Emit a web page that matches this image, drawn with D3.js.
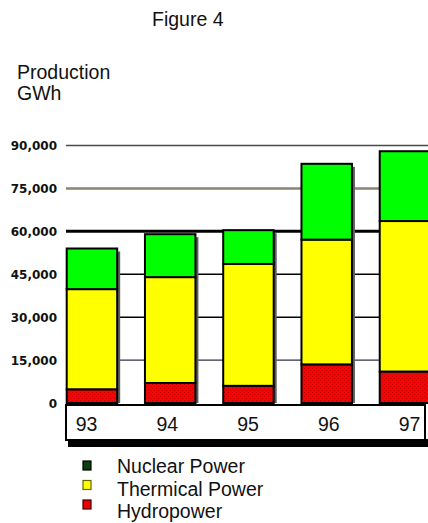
<!DOCTYPE html>
<html>
<head>
<meta charset="utf-8">
<script src="https://cdn.jsdelivr.net/npm/d3@7"></script>
<style>
  html, body { margin: 0; padding: 0; background: #fff; }
  svg { display: block; }
  .txt { font-family: "Liberation Sans", Arial, sans-serif; fill: #111; }
  .ytick text { font-family: "DejaVu Sans", Verdana, sans-serif; font-weight: bold; font-size: 12px; fill: #111; }
</style>
</head>
<body>
<script>
// Electricity production by source, GWh
const years   = ["93", "94", "95", "96", "97"];
const hydro   = [4800, 7000, 6000, 13500, 11000];
const thermal = [35000, 37000, 42600, 43600, 52600];
const nuclear = [14200, 15000, 11800, 26500, 24400];
const yTicks  = [0, 15000, 30000, 45000, 60000, 75000, 90000];
const seriesNames = ["Nuclear Power", "Thermical Power", "Hydropower"];

const W = 428, H = 523;
const svg = d3.select("body").append("svg").attr("width", W).attr("height", H);

// speckled red fill for hydropower
const defs = svg.append("defs");
const pat = defs.append("pattern").attr("id", "hydroFill")
  .attr("patternUnits", "userSpaceOnUse").attr("width", 4).attr("height", 4);
pat.append("rect").attr("width", 4).attr("height", 4).attr("fill", "#ff0000");
pat.append("rect").attr("x", 0).attr("y", 0).attr("width", 1).attr("height", 1).attr("fill", "#c40000");
pat.append("rect").attr("x", 2).attr("y", 2).attr("width", 1).attr("height", 1).attr("fill", "#c40000");

const rows = years.map((yr, i) => ({ year: yr, hydro: hydro[i], thermal: thermal[i], nuclear: nuclear[i] }));
const keys = ["hydro", "thermal", "nuclear"];
const stacked = d3.stack().keys(keys)(rows);
const fills = { hydro: "url(#hydroFill)", thermal: "#ffff00", nuclear: "#00ff00" };

const plotLeft = 66, baseY = 403, topY = 145.5;
const x = d3.scaleBand().domain(years).range([66.7, 430.2]).paddingInner(0.355).paddingOuter(0).align(0);
const y = d3.scaleLinear().domain([0, 90000]).range([baseY, topY]);

// titles
svg.append("text").attr("class", "txt").attr("x", 152).attr("y", 26)
  .attr("font-size", 19.5).text("Figure 4");
svg.append("text").attr("class", "txt").attr("x", 17).attr("y", 79)
  .attr("font-size", 19.5).text("Production");
svg.append("text").attr("class", "txt").attr("x", 17).attr("y", 100)
  .attr("font-size", 19.5).text("GWh");

// horizontal rules behind the bars
function ruleStyle(v) {
  if (v === 60000) return { stroke: "#000", width: 3 };
  if (v === 75000) return { stroke: "#8a8470", width: 2.5 };
  if (v === 90000) return { stroke: "#4a4a4a", width: 1.5 };
  if (v === 15000) return { stroke: "#30304a", width: 1.2 };
  return { stroke: "#000", width: 1.5 };
}
svg.append("g").selectAll("line").data(yTicks.filter(v => v > 0)).join("line")
  .attr("x1", plotLeft).attr("x2", W)
  .attr("y1", d => y(d)).attr("y2", d => y(d))
  .attr("stroke", d => ruleStyle(d).stroke)
  .attr("stroke-width", d => ruleStyle(d).width);

// value axis labels
const yAxis = svg.append("g").attr("class", "ytick")
  .attr("transform", `translate(${plotLeft},0)`)
  .call(d3.axisLeft(y).tickValues(yTicks).tickFormat(d3.format(",")).tickSize(0).tickPadding(9));
yAxis.select(".domain").remove();
yAxis.selectAll("text").attr("dy", "0.36em");

// bar shadows
svg.append("g").selectAll("rect").data(rows).join("rect")
  .attr("x", d => x(d.year) + 3)
  .attr("y", d => y(d.hydro + d.thermal + d.nuclear) + 3)
  .attr("width", x.bandwidth())
  .attr("height", d => baseY - y(d.hydro + d.thermal + d.nuclear) - 3)
  .attr("fill", "#5e5e5e");

// stacked bars
svg.append("g").selectAll("g").data(stacked).join("g")
  .attr("fill", s => fills[s.key])
  .selectAll("rect").data(s => s).join("rect")
  .attr("x", d => x(d.data.year))
  .attr("y", d => y(d[1]))
  .attr("width", x.bandwidth())
  .attr("height", d => y(d[0]) - y(d[1]))
  .attr("stroke", "#000")
  .attr("stroke-width", 2);

// category box under the bars
svg.append("rect").attr("x", 68).attr("y", 439).attr("width", 362).attr("height", 8).attr("fill", "#000");
svg.append("rect").attr("x", 66).attr("y", 405).attr("width", 359).attr("height", 35)
  .attr("fill", "#fff").attr("stroke", "#000").attr("stroke-width", 2);

const xl = d3.scalePoint().domain(years).range([86, 409]);
const xAxis = svg.append("g").attr("transform", "translate(0,405)")
  .call(d3.axisBottom(xl).tickSize(0).tickPadding(0));
xAxis.select(".domain").remove();
xAxis.selectAll("text")
  .attr("class", "txt")
  .attr("font-size", 19.5)
  .attr("font-family", "Liberation Sans, Arial, sans-serif")
  .attr("fill", "#111")
  .attr("y", 26).attr("dy", 0);

// legend
const legendFill = ["#0c400c", "#ffff00", "#ee0000"];
const legendStroke = ["#000", "#6a6400", "#3a0000"];
const lg = svg.append("g");
lg.selectAll("rect").data(seriesNames).join("rect")
  .attr("x", 83).attr("y", (d, i) => 461 + i * 19.5)
  .attr("width", 8).attr("height", 9)
  .attr("fill", (d, i) => legendFill[i])
  .attr("stroke", (d, i) => legendStroke[i]).attr("stroke-width", 1.2);
lg.selectAll("text").data(seriesNames).join("text")
  .attr("class", "txt").attr("x", 117).attr("y", (d, i) => 473 + i * 22.5)
  .attr("font-size", 19.5).text(d => d);
</script>
</body>
</html>
